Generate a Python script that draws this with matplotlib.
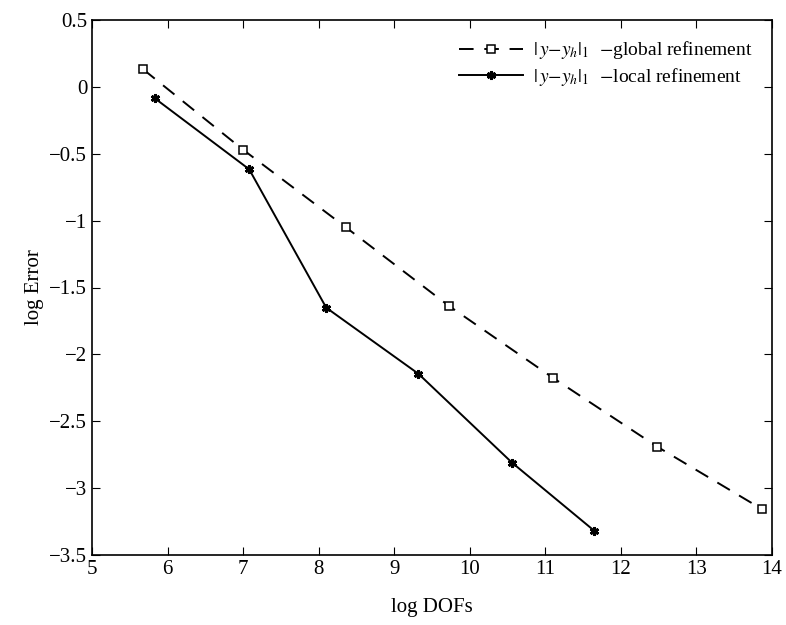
import matplotlib
matplotlib.use('Agg')
import matplotlib.pyplot as plt

plt.rcParams['font.family'] = ['Liberation Serif', 'DejaVu Serif']
plt.rcParams['mathtext.fontset'] = 'stix'

# log DOFs / log Error
x_global = [5.68, 7.00, 8.36, 9.72, 11.10, 12.48, 13.87]
y_global = [0.13, -0.47, -1.05, -1.636, -2.175, -2.69, -3.158]
x_local = [5.83, 7.08, 8.10, 9.32, 10.56, 11.65]
y_local = [-0.085, -0.616, -1.651, -2.145, -2.81, -3.32]

label_global = r'$|\,y{-}y_h|_1$  $-$global refinement'
label_local = r'$|\,y{-}y_h|_1$  $-$local refinement'

fig = plt.figure(figsize=(7.86, 6.25), dpi=100)
ax = fig.add_axes([92/786, 70/625, 680/786, 535/625])

ax.plot(x_global, y_global, color='black', lw=1.4, dashes=(7.5, 5.5),
        marker='s', markersize=5.5, markerfacecolor='white', markeredgecolor='black',
        markeredgewidth=1.1, label=label_global)
ax.plot(x_local, y_local, color='black', lw=1.4,
        marker=(6, 2, 0), markersize=6.5, markeredgewidth=2.0, label=label_local)

ax.set_xlim(5, 14)
ax.set_ylim(-3.5, 0.5)
ax.set_xticks(range(5, 15))
ax.set_yticks([0.5, 0, -0.5, -1, -1.5, -2, -2.5, -3, -3.5])
ax.set_yticklabels(['0.5', '0', '\u22120.5', '\u22121', '\u22121.5', '\u22122',
                    '\u22122.5', '\u22123', '\u22123.5'])
ax.tick_params(direction='in', top=True, right=True, labelsize=15, length=6, width=0.8)
for s in ax.spines.values():
    s.set_linewidth(1.2)

ax.set_xlabel('log DOFs', fontsize=15, labelpad=14)
ax.set_ylabel('log Error', fontsize=15, labelpad=4)

ax.legend(loc='upper right', bbox_to_anchor=(1.0, 1.0), frameon=False,
          fontsize=14, handlelength=3.3, handletextpad=0.5, labelspacing=0.25,
          borderaxespad=0.6)

fig.savefig('out.png', dpi=100)
